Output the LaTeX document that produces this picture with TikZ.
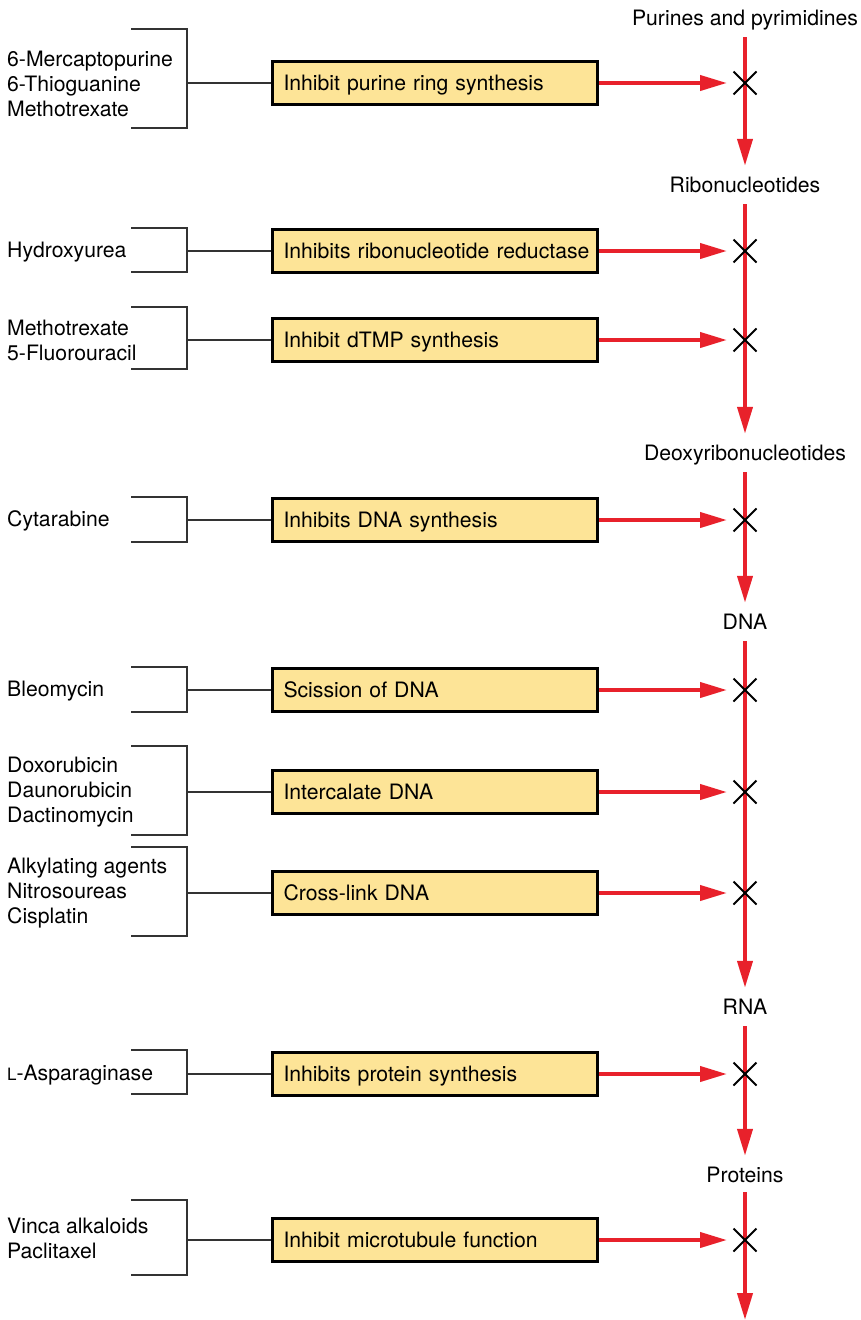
\documentclass[tikz,border=0pt]{standalone}
\usepackage{fontspec}
\setmainfont{TeX Gyre Heros}
\usetikzlibrary{arrows.meta}
\definecolor{rd}{HTML}{E8212B}
\definecolor{yl}{HTML}{FDE497}
\definecolor{ln}{HTML}{333333}
\begin{document}
\begin{tikzpicture}[x=1pt,y=-1pt,
 font=\fontsize{21.2}{25}\selectfont,
 actbox/.style={draw=black, line width=3pt, fill=yl, minimum height=43pt, text width=303pt, inner xsep=11pt, inner ysep=0pt, text height=15pt, text depth=0pt, anchor=west, align=left},
 drug/.style={inner sep=0pt, anchor=west, align=left},
 stage/.style={inner sep=0pt, text height=14pt, text depth=4pt},
 flow/.style={draw=rd, line width=4pt, -{Triangle[length=27pt,width=15pt]}},
 vflow/.style={flow, shorten <=8pt, shorten >=12pt},
 hflow/.style={flow, shorten >=18pt},
 brk/.style={draw=ln, line width=1.5pt},
 xmark/.style={draw=black, line width=2pt}]
\useasboundingbox (0,0) rectangle (861,1320);

% stage labels
\node[stage] (s0) at (745,20) {Purines and pyrimidines};
\node[stage] (s1) at (745,187) {Ribonucleotides};
\node[stage] (s2) at (745,455) {Deoxyribonucleotides};
\node[stage] (s3) at (745,624) {DNA};
\node[stage] (s4) at (745,1009) {RNA};
\node[stage] (s5) at (745,1177) {Proteins};
\coordinate (send) at (745,1320);

% vertical flow
\draw[vflow] (s0) -- (s1);
\draw[vflow] (s1) -- (s2);
\draw[vflow] (s2) -- (s3);
\draw[vflow] (s3) -- (s4);
\draw[vflow] (s4) -- (s5);
\draw[flow, shorten <=6pt] (s5) -- (send);

% cross points
\coordinate (x1) at (745,83);
\coordinate (x2) at (745,251);
\coordinate (x3) at (745,340);
\coordinate (x4) at (745,520);
\coordinate (x5) at (745,690);
\coordinate (x6) at (745,792);
\coordinate (x7) at (745,893);
\coordinate (x8) at (745,1074);
\coordinate (x9) at (745,1240);

% action boxes
\node[actbox] (b1) at (271,83) {\mbox{Inhibit purine ring synthesis}};
\node[actbox] (b2) at (271,251) {\mbox{Inhibits ribonucleotide reductase}};
\node[actbox] (b3) at (271,340) {\mbox{Inhibit dTMP synthesis}};
\node[actbox] (b4) at (271,520) {\mbox{Inhibits DNA synthesis}};
\node[actbox] (b5) at (271,690) {\mbox{Scission of DNA}};
\node[actbox] (b6) at (271,792) {\mbox{Intercalate DNA}};
\node[actbox] (b7) at (271,893) {\mbox{Cross-link DNA}};
\node[actbox] (b8) at (271,1074) {\mbox{Inhibits protein synthesis}};
\node[actbox] (b9) at (271,1240) {\mbox{Inhibit microtubule function}};

% horizontal red arrows
\foreach \i in {1,...,9} {\draw[hflow] (b\i.east) -- (x\i);}

% crosses
\foreach \i in {1,...,9} {\draw[xmark] (x\i) ++(-11.5,-11.5) -- ++(23,23) (x\i) ++(-11.5,11.5) -- ++(23,-23);}

% drug texts
\node[drug] (d1) at (7,84) {6-Mercaptopurine\\6-Thioguanine\\Methotrexate};
\node[drug] (d2) at (7,252) {Hydroxyurea};
\node[drug] (d3) at (7,340) {Methotrexate\\5-Fluorouracil};
\node[drug] (d4) at (7,521) {Cytarabine};
\node[drug] (d5) at (7,691) {Bleomycin};
\node[drug] (d6) at (7,792) {Doxorubicin\\Daunorubicin\\Dactinomycin};
\node[drug] (d7) at (7,893) {Alkylating agents\\Nitrosoureas\\Cisplatin};
\node[drug] (d8) at (7,1075) {{\fontsize{17}{20}\selectfont L}-Asparaginase};
\node[drug] (d9) at (7,1238) {Vinca alkaloids\\Paclitaxel};

% brackets
\draw[brk] (131,29) -- (187,29) -- (187,128) -- (131,128);
\draw[brk] (131,228) -- (187,228) -- (187,272) -- (131,272);
\draw[brk] (131,307) -- (187,307) -- (187,369) -- (131,369);
\draw[brk] (131,497) -- (187,497) -- (187,542) -- (131,542);
\draw[brk] (131,667) -- (187,667) -- (187,712) -- (131,712);
\draw[brk] (131,746) -- (187,746) -- (187,835) -- (131,835);
\draw[brk] (131,847) -- (187,847) -- (187,936) -- (131,936);
\draw[brk] (131,1050) -- (187,1050) -- (187,1094) -- (131,1094);
\draw[brk] (131,1200) -- (187,1200) -- (187,1275) -- (131,1275);

% connectors bracket -> box
\coordinate (k1) at (187,83);
\coordinate (k2) at (187,251);
\coordinate (k3) at (187,340);
\coordinate (k4) at (187,520);
\coordinate (k5) at (187,690);
\coordinate (k6) at (187,792);
\coordinate (k7) at (187,893);
\coordinate (k8) at (187,1074);
\coordinate (k9) at (187,1240);
\foreach \i in {1,...,9} {\draw[brk] (k\i) -- (b\i.west);}
\end{tikzpicture}
\end{document}
